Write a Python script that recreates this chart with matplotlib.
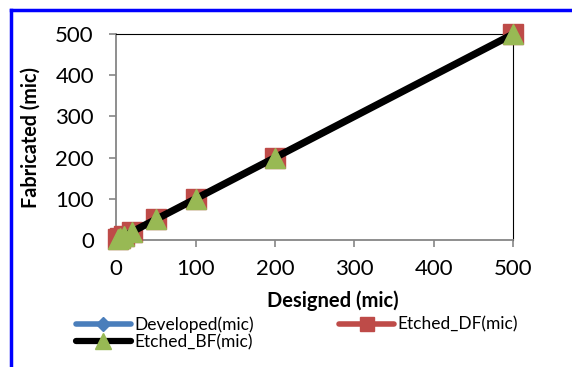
import matplotlib.pyplot as plt
from matplotlib.lines import Line2D

# data
designed = [2, 5, 10, 20, 50, 100, 200, 500]
developed = [2, 5, 10, 20, 50, 100, 200, 500]
etched_df = [2, 5, 10, 20, 50, 100, 200, 500]
etched_bf = [2, 5, 10, 20, 50, 100, 200, 500]
ticks = [0, 100, 200, 300, 400, 500]

plt.rcParams['font.family'] = ['Lato', 'DejaVu Sans']

fig = plt.figure(figsize=(5.72, 3.67), dpi=100)
ax = fig.add_axes([0.203, 0.346, 0.694, 0.561])

ax.plot(designed, developed, color='#4a7ebb', lw=4, marker='D', ms=7,
        clip_on=False, zorder=2, solid_capstyle='round')
ax.plot(designed, etched_df, color='#be4b48', lw=4, marker='s', ms=14.5,
        ls='none', clip_on=False, zorder=3)
ax.plot(designed, etched_bf, color='black', lw=5.2, marker='^', ms=14.5,
        mfc='#98b954', mec='#98b954', clip_on=False, zorder=4,
        solid_capstyle='round')

ax.set_xlim(0, 500)
ax.set_ylim(0, 500)
ax.set_xticks(ticks)
ax.set_yticks(ticks)
ax.tick_params(axis='x', labelsize=16, colors='#868686', labelcolor='black',
               length=5, width=1.2, pad=9)
ax.tick_params(axis='y', labelsize=16, colors='#868686', labelcolor='black',
               length=5, width=1.2, pad=11)
for s in ['left', 'bottom']:
    ax.spines[s].set_color('#868686')
    ax.spines[s].set_linewidth(1.3)
for s in ['top', 'right']:
    ax.spines[s].set_color('black')
ax.set_xlabel('Designed (mic)', fontsize=14.5, fontweight='bold')
ax.xaxis.set_label_coords(0.547, -0.243)
ax.set_ylabel('Fabricated (mic)', fontsize=14.2, fontweight='bold')
ax.yaxis.set_label_coords(-0.189, 0.5)

# legend handles with line + marker
h1 = Line2D([], [], color='#4a7ebb', lw=4, marker='D', ms=7, solid_capstyle='round')
h2 = Line2D([], [], color='#be4b48', lw=4, marker='s', ms=10, solid_capstyle='round')
h3 = Line2D([], [], color='black', lw=4.5, marker='^', ms=11, mfc='#98b954',
            mec='#98b954', solid_capstyle='round')
fig.legend([h1, h3, h2], ['Developed(mic)', 'Etched_BF(mic)', 'Etched_DF(mic)'],
           loc='upper left', bbox_to_anchor=(0.133, 0.138), ncol=2, frameon=False,
           fontsize=12.5, handlelength=3.15, handletextpad=0.22, columnspacing=4.9,
           labelspacing=0.08, borderpad=0, borderaxespad=0)

# blue frame on the left and top edge
fig.add_artist(Line2D([0.019, 0.019], [0, 0.973], color='#0000ff', lw=2.5,
                      transform=fig.transFigure))
fig.add_artist(Line2D([0.019, 1.0], [0.973, 0.973], color='#0000ff', lw=2.5,
                      transform=fig.transFigure))

fig.savefig('out.png', dpi=100)
